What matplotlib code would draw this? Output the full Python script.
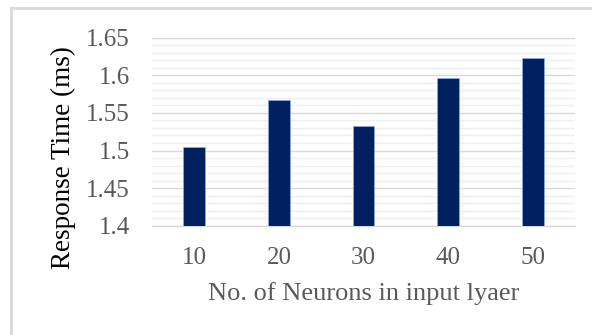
import matplotlib
matplotlib.use('Agg')
import matplotlib.pyplot as plt
from matplotlib.lines import Line2D
from matplotlib.ticker import MultipleLocator

# response time for each hidden size
neurons = ['10', '20', '30', '40', '50']
response_ms = [1.504, 1.567, 1.533, 1.596, 1.623]
y_ticks = [1.4, 1.45, 1.5, 1.55, 1.6, 1.65]
y_tick_labels = ['1.4', '1.45', '1.5', '1.55', '1.6', '1.65']

plt.rcParams['font.family'] = ['Liberation Serif', 'DejaVu Serif']

W, H = 592, 335
fig = plt.figure(figsize=(W / 100, H / 100), dpi=100)
fig.patch.set_facecolor('white')

# chart frame (only the top and left edges show)
border = '#d9d9d9'
fig.add_artist(Line2D([11 / W, 11 / W], [0, 1 - 8 / H], transform=fig.transFigure,
                      color=border, lw=2))
fig.add_artist(Line2D([11 / W, 1], [1 - 8 / H, 1 - 8 / H], transform=fig.transFigure,
                      color=border, lw=2))

left, right = 152, 575
top, bottom = 37.7, 225.7
ax = fig.add_axes([left / W, 1 - bottom / H, (right - left) / W, (bottom - top) / H])

x = range(len(neurons))
ax.bar(x, response_ms, width=0.26, color='#002060', edgecolor='#8ea9db',
       linewidth=0.6, zorder=3)

ax.set_xlim(-0.5, len(neurons) - 0.5)
ax.set_ylim(1.4, 1.65)
ax.set_yticks(y_ticks)
ax.set_yticklabels(y_tick_labels)
ax.yaxis.set_minor_locator(MultipleLocator(0.01))
ax.set_xticks(list(x))
ax.set_xticklabels(neurons)

ax.grid(axis='y', which='major', color='#d9d9d9', lw=1.0, zorder=0)
ax.grid(axis='y', which='minor', color='#efefef', lw=1.0, zorder=0)
ax.grid(axis='x', visible=False)

for side in ['top', 'right', 'left']:
    ax.spines[side].set_visible(False)
ax.spines['bottom'].set_color('#d9d9d9')
ax.spines['bottom'].set_linewidth(1.0)

ax.tick_params(axis='both', which='both', length=0, colors='#595959', labelsize=18)
ax.tick_params(axis='x', pad=15)
ax.tick_params(axis='y', pad=16)

ax.set_xlabel('No. of Neurons in input lyaer', fontsize=19, color='#595959', labelpad=10)
ax.set_ylabel('Response Time (ms)', fontsize=19.5, color='black')
ax.yaxis.set_label_coords(-0.18, 0.36)

fig.savefig('out.png', dpi=100)
